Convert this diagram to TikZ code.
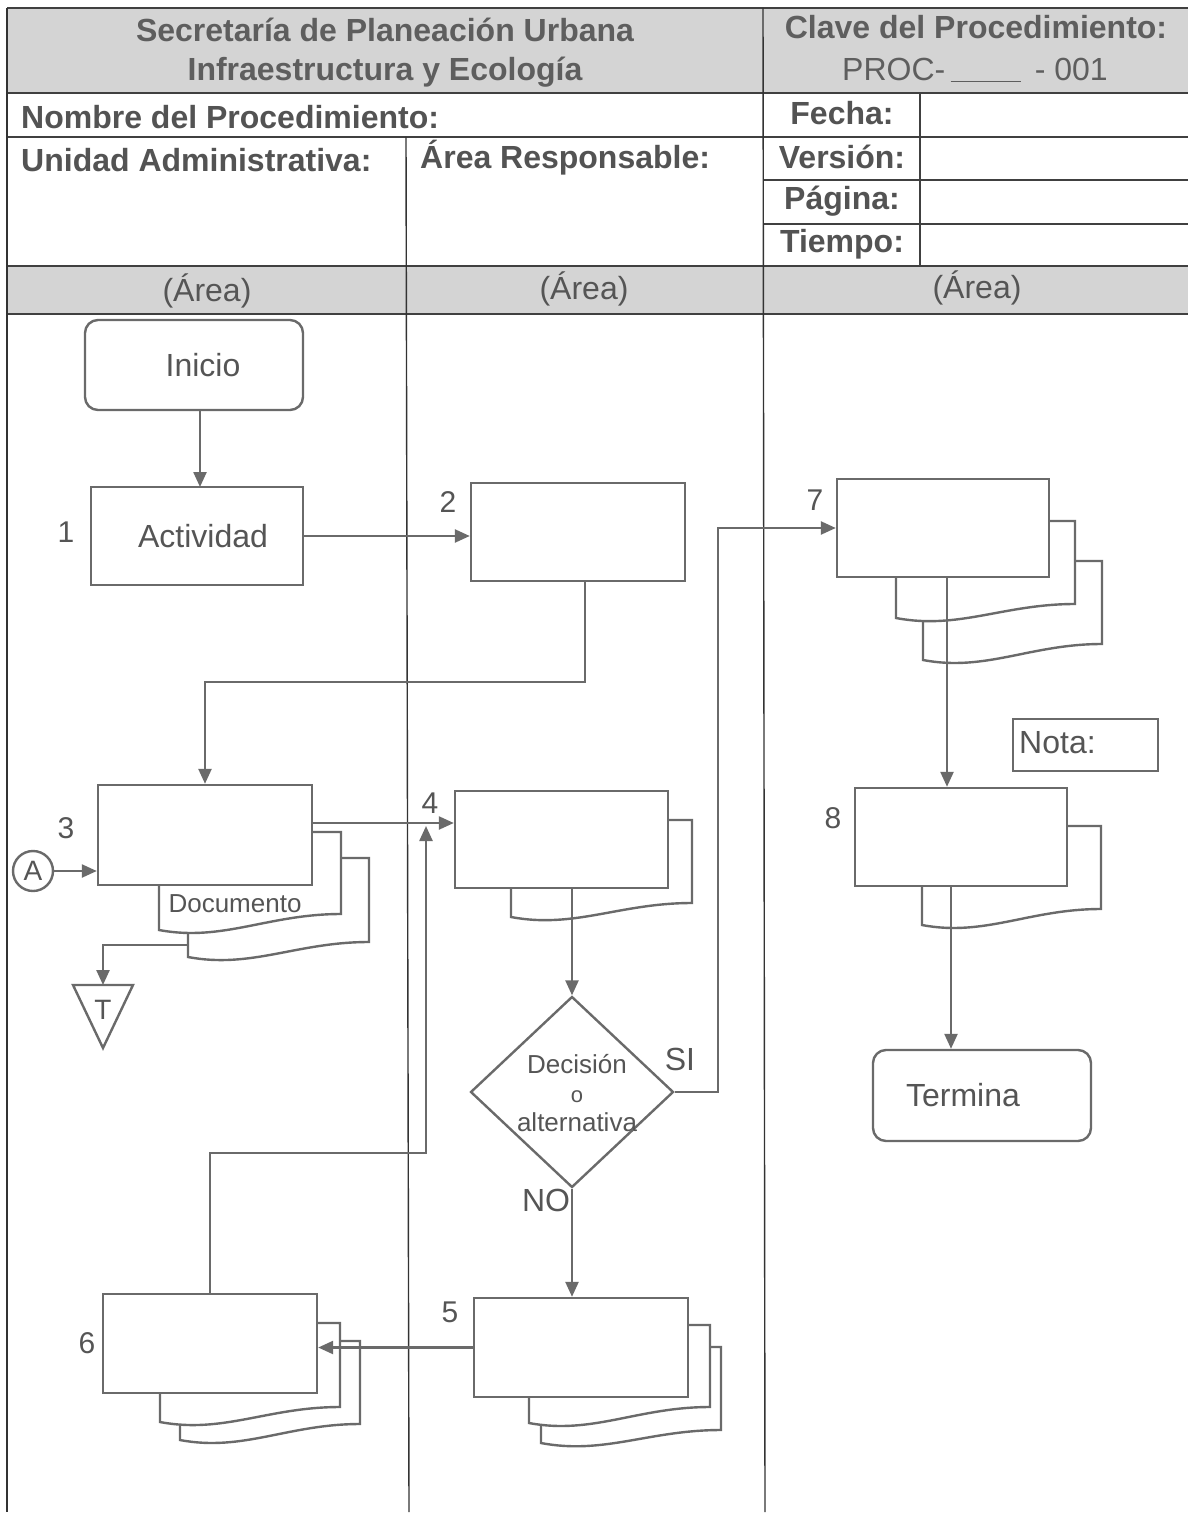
\documentclass[tikz,border=0pt]{standalone}
\usepackage{fontspec}
\setmainfont{Liberation Sans}
\usetikzlibrary{shapes.geometric,arrows.meta}
\definecolor{lncol}{HTML}{6A6A6A}
\definecolor{txtcol}{HTML}{555555}
\definecolor{hdcol}{HTML}{5E5E5E}
\definecolor{bandcol}{HTML}{D4D4D4}
\definecolor{gridcol}{HTML}{404040}
\newcommand{\fbig}{\fontsize{32}{36}\selectfont}
\newcommand{\fnum}{\fontsize{30}{34}\selectfont}
\newcommand{\fmid}{\fontsize{26}{30}\selectfont}
\newcommand{\docpage}[5]{%
  \filldraw[docline] (#4,#1) -- (#2,#1) -- (#2,#3)
    .. controls ({#4+0.6*(#2-#4)},#3) and ({#4+0.35*(#2-#4)},{#5+12}) .. (#4,#5) -- cycle;}
\begin{document}
\begin{tikzpicture}[x=1pt,y=-1pt,
  docline/.style={draw=lncol, line width=2.4pt, fill=white, line join=miter},
  boxnode/.style={draw=lncol, line width=2.4pt, fill=white, rectangle, inner sep=0pt, minimum width=213pt, minimum height=98pt, text=txtcol, font=\fbig},
  termnode/.style={boxnode, rounded corners=13pt, minimum width=218pt, minimum height=90pt},
  conn/.style={draw=lncol, line width=2.4pt, -{Triangle[length=15pt,width=13pt]}},
  plain/.style={draw=lncol, line width=2.4pt},
  numlbl/.style={text=txtcol, font=\fnum, inner sep=0pt},
  hdtext/.style={text=hdcol, font=\fbig\bfseries, inner sep=0pt},
  tbtext/.style={text=gridcol!90!white, font=\fbig\bfseries, inner sep=0pt},
  grid/.style={draw=gridcol, line width=2pt},
  lane/.style={draw=black!80, line width=1.4pt}]
\useasboundingbox (0,0) rectangle (1188,1514);
\fill[white] (0,0) rectangle (1188,1514);
% ---------- table ----------
\fill[bandcol] (7,8) rectangle (1188,93);
\fill[bandcol] (7,266) rectangle (1188,314);
\draw[grid] (7,8) -- (1188,8);
\draw[grid] (7,93) -- (1188,93);
\draw[grid] (7,137) -- (1188,137);
\draw[grid] (763,180) -- (1188,180);
\draw[grid] (763,224) -- (1188,224);
\draw[grid] (7,266) -- (1188,266);
\draw[grid] (7,314) -- (1188,314);
\draw[grid] (920,93) -- (920,266);
\draw[lane] (7,8) -- (7,1512);
\draw[lane] (763,8) -- (765,1512);
\draw[lane] (406,137) -- (409,1512);
\node[hdtext] (h1) at (385,30) {Secretaría de Planeación Urbana};
\node[hdtext] (h2) at (385,72) {Infraestructura y Ecología};
\node[hdtext] (h3) at (976,27) {Clave del Procedimiento:};
\node[text=hdcol, font=\fbig, inner sep=0pt] (h4) at (975,70) {PROC-\,\rule[-2pt]{70pt}{1.5pt}\, - 001};
\node[tbtext, anchor=west] (t1) at (21,117) {Nombre del Procedimiento:};
\node[tbtext, anchor=west] (t2) at (21,160) {Unidad Administrativa:};
\node[tbtext, anchor=west] (t3) at (420,158) {Área Responsable:};
\node[tbtext] (t4) at (842,113) {Fecha:};
\node[tbtext] (t5) at (842,157) {Versión:};
\node[tbtext] (t6) at (842,201) {Página:};
\node[tbtext] (t7) at (842,244) {Tiempo:};
\node[text=txtcol, font=\fbig, inner sep=0pt] (a1) at (207,291) {(Área)};
\node[text=txtcol, font=\fbig, inner sep=0pt] (a2) at (584,289) {(Área)};
\node[text=txtcol, font=\fbig, inner sep=0pt] (a3) at (977,288) {(Área)};
% ---------- documents (behind boxes) ----------
\docpage{858}{369}{942}{188}{957}
\docpage{832}{341}{914}{159}{930}
\docpage{820}{692}{903}{511}{917}
\docpage{561}{1102}{644}{923}{660}
\docpage{521}{1075}{604}{896}{618}
\docpage{826}{1101}{909}{922}{925}
\docpage{1347}{721}{1430}{541}{1443}
\docpage{1325}{710}{1407}{529}{1423}
\docpage{1341}{360}{1424}{180}{1440}
\docpage{1323}{340}{1407}{160}{1422}
% ---------- nodes ----------
\node[termnode] (inicio) at (194,365) {\hspace*{18pt}Inicio};
\node[boxnode, minimum width=212pt] (b1) at (197,536) {\hspace*{12pt}Actividad};
\node[boxnode, minimum width=214pt] (b2) at (578,532) {};
\node[boxnode, minimum width=214pt, minimum height=100pt] (b3) at (205,835) {};
\node[boxnode, minimum height=97pt] (b4) at (561.5,839.5) {};
\node[draw=lncol, line width=2.4pt, fill=white, diamond, inner sep=0pt, minimum width=203pt, minimum height=191pt] (dec) at (572,1092) {};
\node[text=txtcol, font=\fmid, align=center, inner sep=0pt] (dectxt) at (577,1093) {Decisión\\[-1pt]{\fontsize{22}{26}\selectfont o}\\[-1pt]alternativa};
\node[boxnode, minimum width=214pt, minimum height=99pt] (b5) at (581,1347.5) {};
\node[boxnode, minimum width=214pt, minimum height=99pt] (b6) at (210,1343.5) {};
\node[boxnode, minimum width=212pt] (b7) at (943,528) {};
\node[boxnode, minimum width=212pt] (b8) at (961,837) {};
\node[draw=lncol, line width=2.4pt, fill=white, inner sep=0pt, minimum width=145pt, minimum height=52pt] (nota) at (1085.5,745) {};
\node[text=txtcol, font=\fbig, anchor=west, inner sep=0pt] (notatxt) at (1019,743) {Nota:};
\node[termnode, minimum width=218pt, minimum height=91pt] (termina) at (982,1095.5) {Termina\hspace*{38pt}};
\node[draw=lncol, line width=2.4pt, fill=white, circle, minimum size=40pt, inner sep=0pt, text=txtcol, font=\fontsize{28}{30}\selectfont] (A) at (33,871) {A};
\draw[plain, fill=white, line join=miter] (73,985) -- (133,985) -- (103,1048) -- cycle;
\coordinate (ttop) at (103,985);
\node[text=txtcol, font=\fontsize{28}{30}\selectfont, inner sep=0pt] (tlbl) at (103,1010) {T};
\node[text=txtcol, font=\fmid, inner sep=0pt] (doclbl) at (235,904) {Documento};
% ---------- labels ----------
\node[numlbl] (n1) at (66,532) {1};
\node[numlbl] (n2) at (448,502) {2};
\node[numlbl] (n3) at (66,828) {3};
\node[numlbl] (n4) at (430,803) {4};
\node[numlbl] (n5) at (450,1312) {5};
\node[numlbl] (n6) at (87,1343) {6};
\node[numlbl] (n7) at (815,500) {7};
\node[numlbl] (n8) at (833,818) {8};
\node[text=txtcol, font=\fbig, inner sep=0pt] (si) at (680,1059) {SI};
\node[text=txtcol, font=\fbig, inner sep=0pt] (no) at (546,1200) {NO};
% ---------- connectors ----------
\coordinate (c23) at (400,682);
\coordinate (d3out) at (188,945);
\coordinate (csi) at (718,800);
\coordinate (c64) at (426,1153);
\coordinate (j4) at (426,826);
\coordinate (s2) at (585,581);
\draw[conn] (200,410) -- (200,487);
\draw[conn] (b1.east) -- (b1.east -| b2.west);
\draw[conn] (s2) |- (c23) -| (b3.north);
\draw[conn] (A.east) -- (A.east -| b3.west);
\draw[conn] ([yshift=12pt]b3.east) -- ([yshift=12pt]b3.east -| b4.west);
\draw[conn] (d3out) -| (ttop);
\draw[conn] (dec.north |- b4.south) -- (dec.north);
\draw[conn] (dec.east) -| (csi) |- (b7.west);
\draw[conn] (dec.south) -- (dec.south |- b5.north);
\draw[conn] (b5.west) -- (b5.west -| b6.east);
\draw[conn] (b6.north) |- (c64) -- (j4);
\draw[conn] ([xshift=4pt]b7.south) -- ([xshift=4pt]b7.south |- b8.north);
\draw[conn] ([xshift=-10pt]b8.south) -- ([xshift=-10pt]b8.south |- termina.north);
\end{tikzpicture}
\end{document}
